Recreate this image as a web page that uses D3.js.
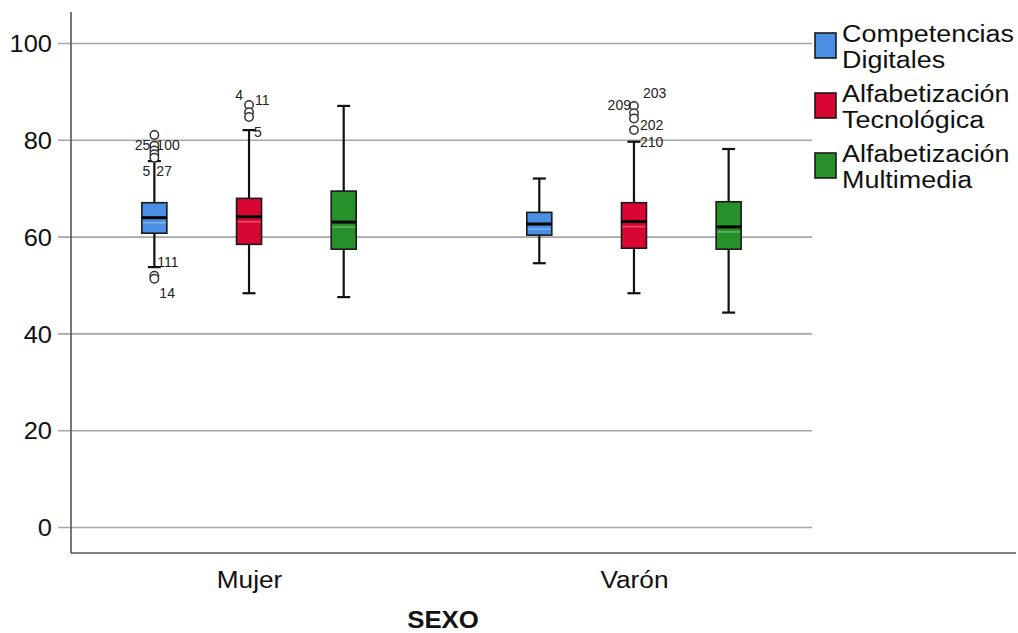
<!DOCTYPE html>
<html><head><meta charset="utf-8">
<script src="https://cdn.jsdelivr.net/npm/d3@7"></script>
<style>body{margin:0;background:#fff}text{font-family:"Liberation Sans",Arial,sans-serif}</style>
</head><body><svg id="c" width="1018" height="633"></svg>
<script>
// ---------- data ----------
const categories = ["Mujer", "Varón"];
const seriesNames = ["Competencias Digitales", "Alfabetización Tecnológica", "Alfabetización Multimedia"];
const legendLines = [["Competencias", "Digitales"], ["Alfabetización", "Tecnológica"], ["Alfabetización", "Multimedia"]];
const yTicks = [0, 20, 40, 60, 80, 100];
// [lower whisker, Q1, median, Q3, upper whisker] per series
const mujerStats = [[53.7, 60.7, 63.9, 67.0, 75.6], [48.3, 58.4, 64.1, 67.9, 82.0], [47.5, 57.4, 63.0, 69.4, 87.0]];
const varonStats = [[54.5, 60.3, 62.6, 65.0, 72.0], [48.3, 57.6, 63.1, 67.0, 79.6], [44.3, 57.4, 62.0, 67.2, 78.1]];
const mujerOutliers = [[81.0, 78.8, 77.8, 77.0, 76.3, 51.9, 51.3], [87.2, 85.7, 84.7], []];
const varonOutliers = [[], [87.0, 85.5, 84.4, 82.0], []];
// outlier case labels: [category, series index, label, outlier value]
const caseLabels = [
  ["Mujer", 0, "25", 78.8], ["Mujer", 0, "100", 78.8], ["Mujer", 0, "5", 76.3], ["Mujer", 0, "27", 76.3],
  ["Mujer", 0, "111", 51.9], ["Mujer", 0, "14", 51.3],
  ["Mujer", 1, "4", 87.2], ["Mujer", 1, "11", 87.2], ["Mujer", 1, "5", 84.7],
  ["Varón", 1, "209", 87.0], ["Varón", 1, "203", 87.0], ["Varón", 1, "202", 84.4], ["Varón", 1, "210", 82.0]
];
// ---------- layout / style (kept separate from data) ----------
const colors = ["#4a8fe4", "#d80632", "#27902a"];
const labelOffsets = [
  [-4, 4, "end"], [2, 4, "start"], [-4, 18, "end"], [2, 18, "start"],
  [3, -9, "start"], [5, 19, "start"],
  [-6, -5, "end"], [6, 0, "start"], [5, 20, "start"],
  [-3, 4, "end"], [9, -8, "start"], [6, 11, "start"], [6, 17, "start"]
];
const statsByCat = {"Mujer": mujerStats, "Varón": varonStats};
const outByCat = {"Mujer": mujerOutliers, "Varón": varonOutliers};

// horizontally widen text (reference glyphs are slightly stretched)
function stretch(sel, f) {
  sel.each(function () {
    const len = this.getComputedTextLength();
    d3.select(this).attr("textLength", len * f).attr("lengthAdjust", "spacingAndGlyphs");
  });
  return sel;
}

const svg = d3.select("#c");
const pLeft = 71, pRight = 812, pTop = 12, pBottom = 553;
const y = d3.scaleLinear().domain([0, 100]).range([527, 43]);
const x = d3.scalePoint().domain(categories).range([pLeft, pRight]).padding(0.4625);
const xs = d3.scaleBand().domain(d3.range(seriesNames.length)).range([-142, 142]);
const boxW = 25, capW = 13;
const cx = (c, i) => x(c) + xs(i) + xs.bandwidth() / 2;

// gridlines
const yAxis = d3.axisLeft(y).tickValues(yTicks).tickSize(pRight - pLeft + 13).tickFormat(d3.format("d"));
const ga = svg.append("g").attr("transform", `translate(${pRight},0)`).call(yAxis);
ga.select(".domain").remove();
ga.selectAll(".tick line").attr("stroke", "#a6a6a6").attr("stroke-width", 1.6);
ga.selectAll(".tick text").attr("x", -(pRight - pLeft + 19)).attr("dy", "0.36em")
  .attr("font-size", 24).attr("fill", "#111").attr("font-family", "Liberation Sans, Arial, sans-serif");
stretch(ga.selectAll(".tick text"), 1.06);

// frame
svg.append("line").attr("x1", pLeft).attr("x2", pLeft).attr("y1", pTop).attr("y2", pBottom).attr("stroke", "#555").attr("stroke-width", 1.6);
svg.append("line").attr("x1", pLeft).attr("x2", 1016).attr("y1", pBottom).attr("y2", pBottom).attr("stroke", "#555").attr("stroke-width", 1.6);

// x labels
const xAxis = d3.axisBottom(x).tickSize(0).tickPadding(0);
const gx = svg.append("g").attr("transform", `translate(0,${pBottom})`).call(xAxis);
gx.select(".domain").remove();
gx.selectAll(".tick text").attr("dy", 0).attr("y", 35).attr("font-size", 23).attr("fill", "#111")
  .attr("font-family", "Liberation Sans, Arial, sans-serif");
stretch(gx.selectAll(".tick text"), 1.14);
stretch(svg.append("text").attr("x", 443).attr("y", 628).attr("text-anchor", "middle")
  .attr("font-size", 23).attr("font-weight", "bold").attr("fill", "#111").text("SEXO"), 1.12);

// boxes
categories.forEach(c => {
  statsByCat[c].forEach((s, i) => {
    const g = svg.append("g");
    const X = cx(c, i);
    const [lo, q1, med, q3, hi] = s;
    g.append("line").attr("x1", X).attr("x2", X).attr("y1", y(hi)).attr("y2", y(q3)).attr("stroke", "#111").attr("stroke-width", 2.2);
    g.append("line").attr("x1", X).attr("x2", X).attr("y1", y(q1)).attr("y2", y(lo)).attr("stroke", "#111").attr("stroke-width", 2.2);
    [hi, lo].forEach(v => g.append("line").attr("x1", X - capW / 2).attr("x2", X + capW / 2).attr("y1", y(v)).attr("y2", y(v)).attr("stroke", "#111").attr("stroke-width", 2.2));
    g.append("rect").attr("x", X - boxW / 2).attr("width", boxW).attr("y", y(q3)).attr("height", y(q1) - y(q3))
      .attr("fill", colors[i]).attr("stroke", "#1a1a1a").attr("stroke-width", 1.6);
    g.append("line").attr("x1", X - boxW / 2 + 1).attr("x2", X + boxW / 2 - 1).attr("y1", y(med) + 5).attr("y2", y(med) + 5)
      .attr("stroke", "#fff").attr("stroke-opacity", 0.3).attr("stroke-width", 1.5);
    g.append("line").attr("x1", X - boxW / 2).attr("x2", X + boxW / 2).attr("y1", y(med)).attr("y2", y(med)).attr("stroke", "#000").attr("stroke-width", 3);
    outByCat[c][i].forEach(v => g.append("circle").attr("cx", X).attr("cy", y(v)).attr("r", 4.2)
      .attr("fill", "#fff").attr("stroke", "#333").attr("stroke-width", 1.5));
  });
});

// case labels
caseLabels.forEach((d, k) => {
  const [c, i, t, v] = d;
  const [dx, dy, anc] = labelOffsets[k];
  svg.append("text").attr("x", cx(c, i) + dx).attr("y", y(v) + dy).attr("text-anchor", anc)
    .attr("font-size", 14).attr("fill", "#222").text(t);
});

// legend
legendLines.forEach((lines, i) => {
  const ly = 33 + i * 60;
  svg.append("rect").attr("x", 815).attr("y", ly).attr("width", 21).attr("height", 25)
    .attr("fill", colors[i]).attr("stroke", "#1a1a1a").attr("stroke-width", 1.6);
  lines.forEach((t, j) => stretch(svg.append("text").attr("x", 842).attr("y", ly + 9 + j * 26)
    .attr("font-size", 23).attr("fill", "#111").text(t), 1.17));
});
</script></body></html>
